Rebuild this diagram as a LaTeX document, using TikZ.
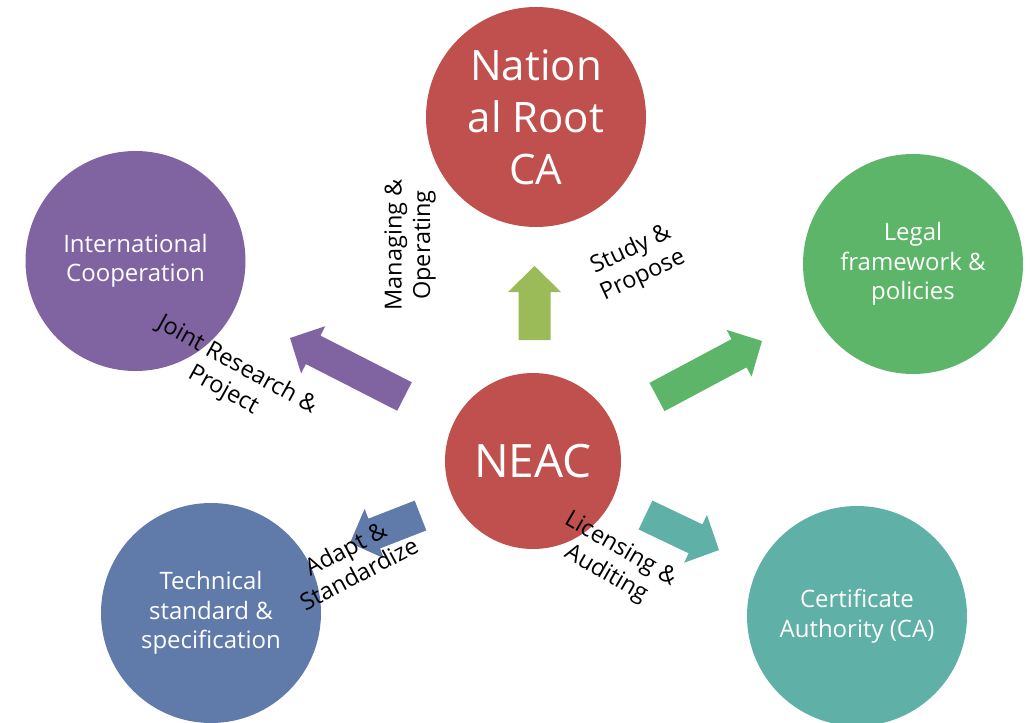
\documentclass[tikz,border=0pt]{standalone}
\usepackage{fontspec}
\setmainfont{Open Sans}
\usetikzlibrary{calc}
\definecolor{cred}{HTML}{C0504D}
\definecolor{cpurple}{HTML}{8064A2}
\definecolor{cgreen}{HTML}{5CB568}
\definecolor{cyellowgreen}{HTML}{9BBB59}
\definecolor{cblue}{HTML}{607AAA}
\definecolor{cteal}{HTML}{5FB0A6}
\tikzset{
  bigcirc/.style={circle, minimum size=220pt, inner sep=0pt, text=white, align=center,
    font=\fontsize{24}{29.5}\selectfont},
  lbl/.style={text=black, align=center, inner sep=0pt, font=\fontsize{23.5}{28.5}\selectfont},
}
\newcommand\blockarr[3]{%
  \fill[#1] ($(#2)!16pt!90:(#3)$) -- ($($(#3)!26pt!(#2)$)!16pt!-90:(#2)$)
    -- ($($(#3)!26pt!(#2)$)!26.5pt!-90:(#2)$) -- (#3)
    -- ($($(#3)!26pt!(#2)$)!26.5pt!90:(#2)$) -- ($($(#3)!26pt!(#2)$)!16pt!90:(#2)$)
    -- ($(#2)!16pt!-90:(#3)$) -- cycle;}
\begin{document}
\begin{tikzpicture}[x=1pt,y=-1pt]
\useasboundingbox (0,0) rectangle (1031,723);
% circles
\node[bigcirc, fill=cred, font=\fontsize{42}{52}\selectfont] (root) at (536,117) {Nation\\al Root\\CA};
\node[bigcirc, fill=cpurple] (intl) at (135.5,261) {International\\Cooperation};
\node[bigcirc, fill=cgreen] (legal) at (913,264) {Legal\\framework \&\\policies};
\node[bigcirc, fill=cblue] (tech) at (211,613) {Technical\\standard \&\\specification};
\node[bigcirc, fill=cteal] (ca) at (857,616) {Certificate\\Authority (CA)};
\node[circle, minimum size=176pt, inner sep=0pt, fill=cred, text=white, font=\fontsize{46}{52}\selectfont] (neac) at (533,461) {NEAC};
% arrow anchor coordinates
\coordinate (upA) at (534.5,340); \coordinate (upB) at (534.5,266);
\coordinate (puA) at (404.5,396.5); \coordinate (puB) at (290,338);
\coordinate (grA) at (657,397); \coordinate (grB) at (762,341);
\coordinate (blA) at (420.5,515.5); \coordinate (blB) at (350,543);
\coordinate (teA) at (645.5,515); \coordinate (teB) at (719,550);
\blockarr{cyellowgreen}{upA}{upB}
\blockarr{cpurple}{puA}{puB}
\blockarr{cgreen}{grA}{grB}
\blockarr{cblue}{blA}{blB}
\blockarr{cteal}{teA}{teB}
% labels
\node[lbl, rotate=90] (l1) at (410,245) {Managing \&\\Operating};
\node[lbl, rotate=25] (l2) at (637,263) {Study \&\\Propose};
\node[lbl, rotate=-29] (l3) at (230,378) {Joint Research \&\\Project};
\node[lbl, rotate=28] (l4) at (352,561) {Adapt \&\\Standardize};
\node[lbl, rotate=-30] (l5) at (613,562) {Licensing \&\\Auditing};
\end{tikzpicture}
\end{document}
